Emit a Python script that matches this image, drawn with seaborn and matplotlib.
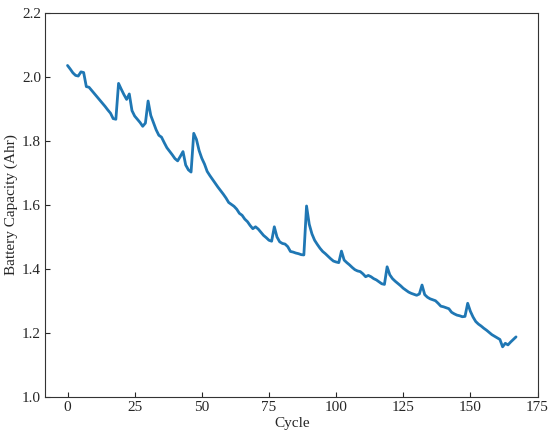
import numpy as np
import pandas as pd
import matplotlib
matplotlib.use("Agg")
import matplotlib.pyplot as plt
import seaborn as sns

capacity = [
    2.036, 2.025, 2.013, 2.005, 2.003, 2.016, 2.014, 1.970, 1.968, 1.958,
    1.948, 1.938, 1.928, 1.918, 1.908, 1.897, 1.887, 1.870, 1.868, 1.980,
    1.962, 1.945, 1.930, 1.947, 1.895, 1.878, 1.868, 1.858, 1.846, 1.856,
    1.925, 1.880, 1.857, 1.835, 1.818, 1.812, 1.795, 1.779, 1.768, 1.757,
    1.745, 1.738, 1.752, 1.767, 1.725, 1.710, 1.703, 1.824, 1.805, 1.770,
    1.746, 1.728, 1.705, 1.692, 1.680, 1.668, 1.656, 1.645, 1.634, 1.622,
    1.608, 1.602, 1.596, 1.587, 1.574, 1.568, 1.556, 1.548, 1.536, 1.526,
    1.532, 1.525, 1.515, 1.505, 1.498, 1.490, 1.487, 1.532, 1.500, 1.485,
    1.480, 1.478, 1.470, 1.455, 1.453, 1.450, 1.448, 1.445, 1.444, 1.597,
    1.540, 1.510, 1.490, 1.477, 1.465, 1.455, 1.448, 1.440, 1.432, 1.425,
    1.422, 1.420, 1.456, 1.428, 1.420, 1.413, 1.405, 1.398, 1.394, 1.392,
    1.385, 1.376, 1.380, 1.376, 1.370, 1.366, 1.360, 1.354, 1.352, 1.407,
    1.382, 1.370, 1.362, 1.355, 1.348, 1.340, 1.334, 1.328, 1.324, 1.321,
    1.318, 1.322, 1.350, 1.320, 1.312, 1.307, 1.304, 1.301, 1.293, 1.284,
    1.282, 1.279, 1.276, 1.265, 1.260, 1.256, 1.254, 1.251, 1.252, 1.293,
    1.268, 1.250, 1.236, 1.228, 1.222, 1.215, 1.209, 1.202, 1.195, 1.190,
    1.185, 1.180, 1.157, 1.168, 1.163, 1.172, 1.180, 1.188,
]
cycles = list(range(len(capacity)))

x_ticks = [0, 25, 50, 75, 100, 125, 150, 175]
y_ticks = [1.0, 1.2, 1.4, 1.6, 1.8, 2.0, 2.2]

df = pd.DataFrame({"Cycle": cycles, "Capacity": capacity})

sns.set_style("ticks")
plt.rcParams["font.family"] = ["Liberation Serif", "DejaVu Serif"]
plt.rcParams["xtick.direction"] = "in"
plt.rcParams["ytick.direction"] = "in"

fig = plt.figure(figsize=(5.5, 4.33), dpi=100)
ax = fig.add_axes([0.082, 0.083, 0.897, 0.887])
sns.lineplot(data=df, x="Cycle", y="Capacity", ax=ax, color="#1f77b4", linewidth=2.0)

ax.set_ylim(1.0, 2.2)
ax.set_xticks(x_ticks)
ax.set_yticks(y_ticks)
ax.set_yticklabels([f"{v:.1f}" for v in y_ticks])
ax.set_xlabel("Cycle", fontsize=11, labelpad=2)
ax.set_ylabel("Battery Capacity (Ahr)", fontsize=11, labelpad=3)
ax.tick_params(labelsize=11, length=3.5, width=0.8, pad=3)
for s in ax.spines.values():
    s.set_visible(True)
    s.set_linewidth(0.8)
    s.set_color("#333333")

fig.savefig("out.png", dpi=100)
